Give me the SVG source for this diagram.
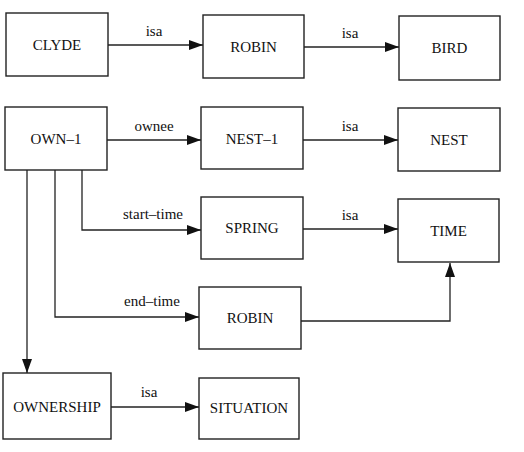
<svg xmlns="http://www.w3.org/2000/svg" width="524" height="452" viewBox="0 0 524 452">
<style>
.box{fill:#fff;stroke:#222;stroke-width:1.4}
.t{font-family:'Liberation Serif','DejaVu Serif','Times New Roman',serif;font-size:15px;fill:#111;text-anchor:middle}
.c{fill:none;stroke:#222;stroke-width:1.3}
</style>
<defs>
<marker id="ah" viewBox="0 0 14 10" refX="14" refY="5" markerWidth="14" markerHeight="10" markerUnits="userSpaceOnUse" orient="auto">
<path d="M0,0 L14,5 L0,10 Z" fill="#111"/>
</marker>
</defs>
<rect width="524" height="452" fill="#fff"/>
<g id="connectors">
<line class="c" x1="108" y1="45" x2="203" y2="45" marker-end="url(#ah)"/>
<text class="t" x="154" y="36">isa</text>
<line class="c" x1="304" y1="47" x2="399" y2="47" marker-end="url(#ah)"/>
<text class="t" x="350" y="38">isa</text>
<line class="c" x1="107" y1="140" x2="201" y2="140" marker-end="url(#ah)"/>
<text class="t" x="154" y="131">ownee</text>
<line class="c" x1="303" y1="140" x2="398" y2="140" marker-end="url(#ah)"/>
<text class="t" x="350" y="131">isa</text>
<polyline class="c" points="82,170 82,230 201,230" marker-end="url(#ah)"/>
<text class="t" x="153" y="219">start–time</text>
<line class="c" x1="303" y1="229" x2="398" y2="229" marker-end="url(#ah)"/>
<text class="t" x="350" y="220">isa</text>
<polyline class="c" points="55,170 55,317 199,317" marker-end="url(#ah)"/>
<text class="t" x="152" y="306">end–time</text>
<polyline class="c" points="301,321 450,321 450,263" marker-end="url(#ah)"/>
<line class="c" x1="27" y1="170" x2="27" y2="373" marker-end="url(#ah)"/>
<line class="c" x1="111" y1="407" x2="199" y2="407" marker-end="url(#ah)"/>
<text class="t" x="149" y="397">isa</text>
</g>
<g id="clyde"><rect class="box" x="6" y="13" width="102" height="63"/><text class="t" x="57" y="50">CLYDE</text></g>
<g id="robin1"><rect class="box" x="203" y="15" width="101" height="63"/><text class="t" x="253.5" y="52">ROBIN</text></g>
<g id="bird"><rect class="box" x="399" y="16" width="101" height="64"/><text class="t" x="449.5" y="53">BIRD</text></g>
<g id="own1"><rect class="box" x="5" y="107" width="102" height="63"/><text class="t" x="56" y="144">OWN–1</text></g>
<g id="nest1"><rect class="box" x="201" y="107" width="102" height="62"/><text class="t" x="252" y="144">NEST–1</text></g>
<g id="nest"><rect class="box" x="398" y="108" width="102" height="63"/><text class="t" x="449" y="145">NEST</text></g>
<g id="spring"><rect class="box" x="201" y="197" width="102" height="62"/><text class="t" x="252" y="233">SPRING</text></g>
<g id="time"><rect class="box" x="398" y="199" width="101" height="63"/><text class="t" x="448.5" y="236">TIME</text></g>
<g id="robin2"><rect class="box" x="199" y="287" width="102" height="62"/><text class="t" x="250" y="323">ROBIN</text></g>
<g id="ownership"><rect class="box" x="3" y="373" width="108" height="66"/><text class="t" x="57" y="412">OWNERSHIP</text></g>
<g id="situation"><rect class="box" x="199" y="378" width="100" height="61"/><text class="t" x="249" y="413">SITUATION</text></g>
</svg>
